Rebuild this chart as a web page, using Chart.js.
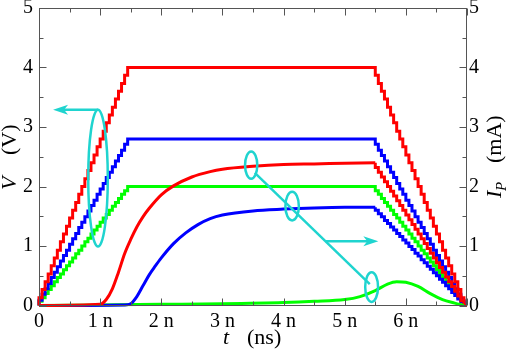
<!DOCTYPE html>
<html lang="en">
<head>
<meta charset="UTF-8">
<script src="https://cdn.jsdelivr.net/npm/chart.js@4.4.1/dist/chart.umd.min.js"></script>
<title>V and I_P versus t</title>
<style>body{margin:0;background:#fff;font-family:"Liberation Serif",serif}</style>
</head>
<body>
<canvas id="chart" width="512" height="352"></canvas>
<script>
// ticks
var xTickVals = [0, 1, 2, 3, 4, 5, 6];
var xTickLabels = ['0', '1 n', '2 n', '3 n', '4 n', '5 n', '6 n'];
var yTickVals = [0, 1, 2, 3, 4, 5];

// staircase ramps (V), sampled every 0.05 ns
var riseT = [0,0.05,0.1,0.15,0.2,0.25,0.3,0.35,0.4,0.45,0.5,0.55,0.6,0.65,0.7,0.75,0.8,0.85,0.9,0.95,1.0,1.05,1.1,1.15,1.2,1.25,1.3,1.35,1.4,1.45,1.5];
var fallT = [5.5,5.55,5.6,5.65,5.7,5.75,5.8,5.85,5.9,5.95,6.0,6.05,6.1,6.15,6.2,6.25,6.3,6.35,6.4,6.45,6.5,6.55,6.6,6.65,6.7,6.75,6.8,6.85,6.9,6.95,7.0];

var redVRise = [0,0.13,0.27,0.4,0.53,0.67,0.8,0.93,1.07,1.2,1.33,1.47,1.6,1.73,1.87,2.0,2.13,2.27,2.4,2.53,2.67,2.8,2.93,3.07,3.2,3.33,3.47,3.6,3.73,3.87,4.0];
var redVFall = [4.0,3.87,3.73,3.6,3.47,3.33,3.2,3.07,2.93,2.8,2.67,2.53,2.4,2.27,2.13,2.0,1.87,1.73,1.6,1.47,1.33,1.2,1.07,0.93,0.8,0.67,0.53,0.4,0.27,0.13,0];
var blueVRise = [0,0.09,0.19,0.28,0.37,0.47,0.56,0.65,0.75,0.84,0.93,1.03,1.12,1.21,1.31,1.4,1.49,1.59,1.68,1.77,1.87,1.96,2.05,2.15,2.24,2.33,2.43,2.52,2.61,2.71,2.8];
var blueVFall = [2.8,2.71,2.61,2.52,2.43,2.33,2.24,2.15,2.05,1.96,1.87,1.77,1.68,1.59,1.49,1.4,1.31,1.21,1.12,1.03,0.93,0.84,0.75,0.65,0.56,0.47,0.37,0.28,0.19,0.09,0];
var greenVRise = [0,0.07,0.13,0.2,0.27,0.33,0.4,0.47,0.53,0.6,0.67,0.73,0.8,0.87,0.93,1.0,1.07,1.13,1.2,1.27,1.33,1.4,1.47,1.53,1.6,1.67,1.73,1.8,1.87,1.93,2.0];
var greenVFall = [2.0,1.93,1.87,1.8,1.73,1.67,1.6,1.53,1.47,1.4,1.33,1.27,1.2,1.13,1.07,1.0,0.93,0.87,0.8,0.73,0.67,0.6,0.53,0.47,0.4,0.33,0.27,0.2,0.13,0.07,0];

// currents (mA)
var redIT = [0,1.0,1.1,1.2,1.3,1.4,1.5,1.6,1.7,1.8,2.0,2.2,2.5,2.8,3.0,3.5,4.0,4.5,5.0,5.5];
var redI  = [0,0.02,0.1,0.28,0.56,0.87,1.11,1.32,1.49,1.63,1.86,2.01,2.16,2.25,2.29,2.34,2.37,2.38,2.39,2.4];
var blueIT = [0,1.4,1.5,1.6,1.7,1.8,1.9,2.0,2.2,2.4,2.6,2.8,3.0,3.5,4.0,4.5,5.0,5.5];
var blueI  = [0,0.01,0.03,0.15,0.33,0.51,0.66,0.8,1.04,1.22,1.36,1.46,1.52,1.59,1.62,1.64,1.65,1.65];
var redIFall  = [2.4,2.32,2.24,2.16,2.08,2.0,1.92,1.84,1.76,1.68,1.6,1.52,1.44,1.36,1.28,1.2,1.12,1.04,0.96,0.88,0.8,0.72,0.64,0.56,0.48,0.4,0.32,0.24,0.16,0.08,0];
var blueIFall = [1.65,1.6,1.54,1.49,1.43,1.38,1.32,1.27,1.21,1.16,1.1,1.05,0.99,0.94,0.88,0.83,0.77,0.72,0.66,0.61,0.55,0.5,0.44,0.39,0.33,0.28,0.22,0.17,0.11,0.06,0];
var greenIT = [0,1,2,3,4,4.5,5.0,5.25,5.5,5.7,5.85,6.0,6.2,6.4,6.6,6.8,6.95];
var greenI  = [0.0,0.01,0.02,0.03,0.05,0.07,0.1,0.15,0.25,0.36,0.4,0.39,0.32,0.2,0.1,0.04,0.0];

function pts(xs, ys) { return xs.map(function (x, i) { return {x: x, y: ys[i]}; }); }

var cyan = '#1fd4cf';
var serif = '"Liberation Serif"';

// annotation loops and arrows, in data units (t in ns, value on the V/mA scale)
var loops = [
  {t: 0.965, v: 2.14, dt: 0.16, dv: 1.15},
  {t: 3.47, v: 2.36, dt: 0.1, dv: 0.23},
  {t: 4.14, v: 1.67, dt: 0.11, dv: 0.24},
  {t: 5.44, v: 0.31, dt: 0.105, dv: 0.25}
];

var decor = {
  id: 'decor',
  afterDatasetsDraw: function (chart) {
    var ctx = chart.ctx, a = chart.chartArea, x = chart.scales.x, y = chart.scales.y;
    var px = function (t) { return x.getPixelForValue(t); };
    var py = function (v) { return y.getPixelForValue(v); };
    ctx.save();

    // annotations
    ctx.strokeStyle = cyan; ctx.fillStyle = cyan; ctx.lineWidth = 2.5;
    loops.forEach(function (l) {
      ctx.beginPath();
      ctx.ellipse(px(l.t), py(l.v), px(l.t + l.dt) - px(l.t), py(l.v) - py(l.v + l.dv), 0, 0, Math.PI * 2);
      ctx.stroke();
    });
    function arrow(t0, v0, t1, v1, head) {
      var x0 = px(t0), y0 = py(v0), x1 = px(t1), y1 = py(v1);
      var ang = Math.atan2(y1 - y0, x1 - x0);
      ctx.beginPath(); ctx.moveTo(x0, y0);
      ctx.lineTo(head ? x1 - 10 * Math.cos(ang) : x1, head ? y1 - 10 * Math.sin(ang) : y1);
      ctx.stroke();
      if (head) {
        ctx.beginPath();
        ctx.moveTo(x1, y1);
        ctx.lineTo(x1 - 15 * Math.cos(ang) + 5 * Math.sin(ang), y1 - 15 * Math.sin(ang) - 5 * Math.cos(ang));
        ctx.lineTo(x1 - 11 * Math.cos(ang), y1 - 11 * Math.sin(ang));
        ctx.lineTo(x1 - 15 * Math.cos(ang) - 5 * Math.sin(ang), y1 - 15 * Math.sin(ang) + 5 * Math.cos(ang));
        ctx.closePath(); ctx.fill();
      }
    }
    arrow(0.965, 3.29, 0.23, 3.29, true);
    arrow(3.53, 2.23, 5.41, 0.36, false);
    arrow(4.69, 1.08, 5.55, 1.08, true);

    // frame and inward ticks
    ctx.strokeStyle = '#555'; ctx.lineWidth = 1;
    var L = Math.round(a.left) + 0.5, R = Math.round(a.right) - 0.5;
    var T = Math.round(a.top) + 0.5, B = Math.round(a.bottom) - 0.5;
    ctx.strokeRect(L, T, R - L, B - T);
    ctx.beginPath();
    for (var i = 0; i <= 14; i++) {
      var xx = Math.round(px(i / 2)) + 0.5, len = i % 2 ? 4 : 7;
      ctx.moveTo(xx, B); ctx.lineTo(xx, B - len);
      ctx.moveTo(xx, T); ctx.lineTo(xx, T + len);
    }
    for (var j = 0; j <= 10; j++) {
      var yy = Math.round(py(j / 2)) + 0.5, ln = j % 2 ? 4 : 7;
      ctx.moveTo(L, yy); ctx.lineTo(L + ln, yy);
      ctx.moveTo(R, yy); ctx.lineTo(R - ln, yy);
    }
    ctx.stroke();

    // axis titles
    ctx.fillStyle = '#000';
    ctx.textBaseline = 'alphabetic'; ctx.textAlign = 'left';
    ctx.font = 'italic 22px ' + serif;
    ctx.fillText('t', 223, 344);
    ctx.font = '22px ' + serif;
    ctx.fillText('(ns)', 247, 344);

    ctx.save();
    ctx.translate(16, 190); ctx.rotate(-Math.PI / 2);
    ctx.font = 'italic 22px ' + serif; ctx.fillText('V', 0, 0);
    ctx.font = '22px ' + serif; ctx.fillText('(V)', 35, 0);
    ctx.restore();

    ctx.save();
    ctx.translate(501, 198); ctx.rotate(-Math.PI / 2);
    ctx.font = 'italic 22px ' + serif; ctx.fillText('I', 0, 0);
    ctx.font = 'italic 15px ' + serif; ctx.fillText('P', 7, 5);
    ctx.font = '22px ' + serif; ctx.fillText('(mA)', 35, 0);
    ctx.restore();

    ctx.restore();
  }
};

function line(data, color, axis, stepped) {
  return {
    data: data, borderColor: color, backgroundColor: color, borderWidth: 3,
    pointRadius: 0, fill: false, yAxisID: axis, clip: 6,
    stepped: stepped ? 'after' : false,
    cubicInterpolationMode: stepped ? 'default' : 'monotone'
  };
}

var tickFont = {family: serif, size: 20};
function noPad(s) { s.paddingTop = 0; s.paddingBottom = 0; }

function draw() {
  new Chart(document.getElementById('chart').getContext('2d'), {
    type: 'line',
    data: {
      datasets: [
        line(pts(redIT, redI), '#ff0000', 'y2', false),
        line(pts(blueIT, blueI), '#0000ff', 'y2', false),
        line(pts(greenIT, greenI), '#00ff00', 'y2', false),
        line(pts(fallT, redIFall), '#ff0000', 'y2', true),
        line(pts(fallT, blueIFall), '#0000ff', 'y2', true),
        line(pts(riseT, redVRise).concat(pts(fallT, redVFall)), '#ff0000', 'y', true),
        line(pts(riseT, blueVRise).concat(pts(fallT, blueVFall)), '#0000ff', 'y', true),
        line(pts(riseT, greenVRise).concat(pts(fallT, greenVFall)), '#00ff00', 'y', true)
      ]
    },
    options: {
      responsive: false,
      animation: false,
      layout: {padding: {top: 8, left: 0, right: 0, bottom: 0}},
      plugins: {legend: {display: false}, tooltip: {enabled: false}},
      scales: {
        x: {
          type: 'linear', min: 0, max: 7,
          grid: {display: false, drawTicks: false}, border: {display: false},
          afterBuildTicks: function (s) { s.ticks = xTickVals.map(function (v) { return {value: v}; }); },
          afterFit: function (s) { s.height = 46.5; },
          ticks: {padding: 4, color: '#000', font: tickFont, maxRotation: 0,
            callback: function (v, i) { return xTickLabels[i]; }}
        },
        y: {
          position: 'left', min: 0, max: 5,
          grid: {display: false, drawTicks: false}, border: {display: false},
          afterBuildTicks: function (s) { s.ticks = yTickVals.map(function (v) { return {value: v}; }); },
          afterFit: function (s) { s.width = 39; noPad(s); },
          ticks: {padding: 6, color: '#000', font: tickFont}
        },
        y2: {
          position: 'right', min: 0, max: 5,
          grid: {display: false, drawTicks: false}, border: {display: false},
          afterBuildTicks: function (s) { s.ticks = yTickVals.map(function (v) { return {value: v}; }); },
          afterFit: function (s) { s.width = 45; noPad(s); },
          ticks: {padding: 2, color: '#000', font: tickFont}
        }
      }
    },
    plugins: [decor]
  });
}

if (document.fonts && document.fonts.load) {
  Promise.all([
    document.fonts.load('20px "Liberation Serif"'),
    document.fonts.load('italic 20px "Liberation Serif"')
  ]).then(draw, draw);
} else {
  draw();
}
</script>
</body>
</html>
